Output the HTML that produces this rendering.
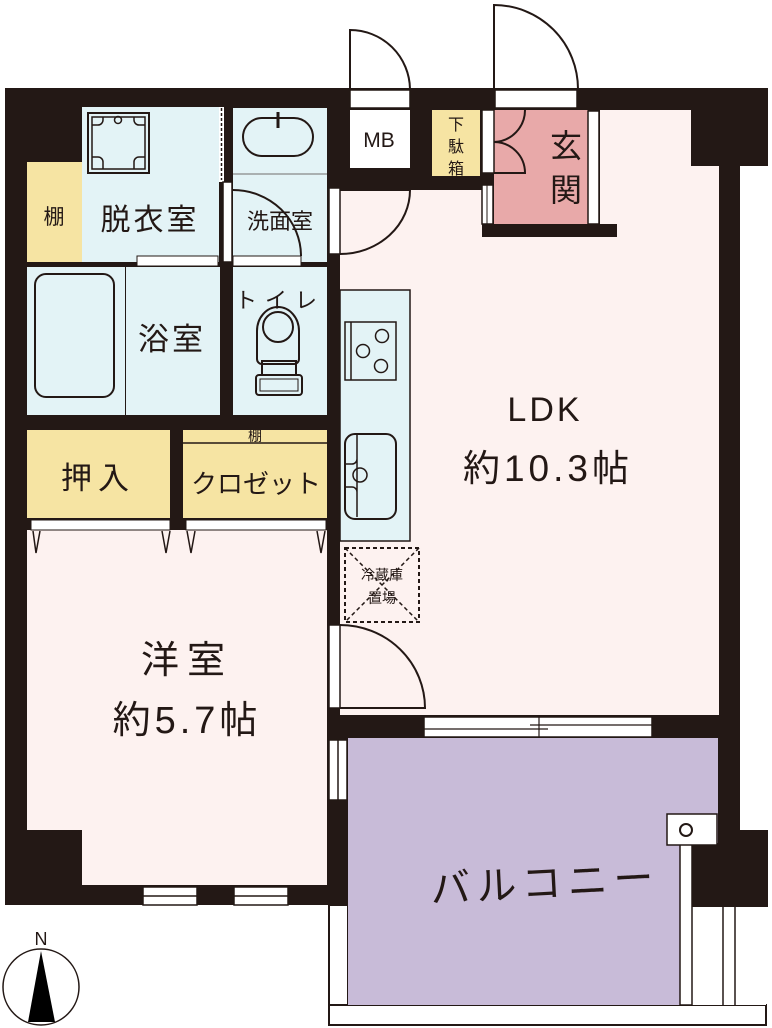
<!DOCTYPE html>
<html><head><meta charset="utf-8"><style>
html,body{margin:0;padding:0;background:#fff;}
svg{display:block;}
text{font-family:"Liberation Sans","Noto Sans CJK JP",sans-serif;fill:#231815;}
</style></head><body>
<svg width="772" height="1028" viewBox="0 0 772 1028" xmlns="http://www.w3.org/2000/svg">
<g stroke="#231815" stroke-width="2" fill="none">
<path d="M350 89 V30 A60 60 0 0 1 410 89"/>
<path d="M494 89 V5 A84 84 0 0 1 578 89"/>
</g>
<rect x="5" y="88" width="735" height="817" fill="#231815"/>
<rect x="691" y="88" width="77" height="78" fill="#231815"/>

<rect x="329" y="905" width="19" height="101" fill="#fff" stroke="#231815" stroke-width="2"/>
<rect x="329" y="1005" width="437" height="20" fill="#fff" stroke="#231815" stroke-width="2"/>
<rect x="348" y="738" width="370" height="267" fill="#c8bbd8"/>
<rect x="692" y="907" width="74" height="98" fill="#fff"/>
<rect x="740" y="830" width="28" height="77" fill="#231815"/>
<rect x="690" y="843" width="50" height="64" fill="#231815"/>
<rect x="680" y="843" width="12" height="162" fill="#fff" stroke="#231815" stroke-width="1.5"/>
<g stroke="#231815" stroke-width="1.5"><line x1="723" y1="907" x2="723" y2="1005"/><line x1="735" y1="907" x2="735" y2="1005"/></g>
<rect x="667" y="814" width="50" height="31" fill="#fff" stroke="#231815" stroke-width="1.5"/>
<circle cx="686" cy="830" r="6" fill="#fff" stroke="#231815" stroke-width="2"/>
<rect x="329" y="740" width="18" height="60" fill="#fff" stroke="#231815" stroke-width="1.5"/>
<line x1="338" y1="740" x2="338" y2="800" stroke="#231815" stroke-width="1.5"/>

<path d="M340 190 H482 V237 H617 V224 H600 V110 H691 V166 H719 V715 H340 Z" fill="#fdf2f0"/>
<rect x="494" y="110" width="94" height="114" fill="#e8a9a9"/>
<rect x="482" y="110" width="12" height="63" fill="#fff" stroke="#231815" stroke-width="1.5"/>
<rect x="588" y="111" width="11" height="113" fill="#fff" stroke="#231815" stroke-width="1.5"/>
<rect x="482" y="185" width="11" height="39" fill="#fff" stroke="#231815" stroke-width="1.5"/>
<line x1="487" y1="185" x2="487" y2="224" stroke="#231815" stroke-width="1"/>
<path d="M525 110 A32 32 0 0 1 494 142 A31 31 0 0 1 525 173 H494" fill="none" stroke="#231815" stroke-width="2"/>
<rect x="495" y="90" width="82" height="18" fill="#fff" stroke="#231815" stroke-width="1.5"/>
<rect x="350" y="110" width="60" height="58" fill="#fff"/>
<rect x="350" y="90" width="60" height="18" fill="#fff" stroke="#231815" stroke-width="1.5"/>
<rect x="432" y="110" width="48" height="66" fill="#f6e4a3"/>
<text x="379" y="147" font-size="21" text-anchor="middle">MB</text>
<text x="456" y="130" font-size="16" text-anchor="middle">下</text>
<text x="456" y="152" font-size="16" text-anchor="middle">駄</text>
<text x="456" y="174" font-size="16" text-anchor="middle">箱</text>
<text x="566" y="157" font-size="32" text-anchor="middle">玄</text>
<text x="566" y="201" font-size="32" text-anchor="middle">関</text>

<rect x="27" y="162" width="55" height="100" fill="#f6e4a3"/>
<rect x="82" y="107" width="137" height="155" fill="#e3f3f6"/>
<rect x="88" y="113" width="61" height="60" fill="none" stroke="#231815" stroke-width="2"/>
<rect x="92" y="117" width="53" height="52" fill="none" stroke="#231815" stroke-width="1.5"/>
<circle cx="118" cy="120" r="3.5" fill="none" stroke="#231815" stroke-width="1.5"/>
<path d="M92 125 H98 A5 5 0 0 0 103 120 V117 M145 125 H139 A5 5 0 0 1 134 120 V117 M92 157 H98 A5 5 0 0 1 103 162 V169 M145 157 H139 A5 5 0 0 0 134 162 V169" fill="none" stroke="#231815" stroke-width="1.5"/>
<rect x="219" y="107" width="5" height="75" fill="#fff"/>
<line x1="221.5" y1="108" x2="221.5" y2="180" stroke="#231815" stroke-width="1.5" stroke-dasharray="3 2"/>
<rect x="223" y="182" width="9" height="80" fill="#fff" stroke="#231815" stroke-width="1.5"/>
<rect x="233" y="108" width="94" height="154" fill="#e3f3f6"/>
<line x1="233" y1="174" x2="327" y2="174" stroke="#888" stroke-width="1.2"/>
<rect x="243" y="118" width="70" height="38" rx="19" fill="none" stroke="#231815" stroke-width="2"/>
<line x1="278" y1="112" x2="278" y2="128" stroke="#231815" stroke-width="3"/>
<path d="M233 190 A68 66 0 0 1 301 256" fill="none" stroke="#231815" stroke-width="2"/>
<rect x="329" y="188" width="11" height="66" fill="#fff" stroke="#231815" stroke-width="1.5"/>
<path d="M340 190 H410 A70 64 0 0 1 340 254" fill="none" stroke="#231815" stroke-width="2"/>
<rect x="137" y="256" width="81" height="10" fill="#fff" stroke="#231815" stroke-width="1"/>
<rect x="233" y="256" width="68" height="10" fill="#fff" stroke="#231815" stroke-width="1"/>
<path d="M209 266 L213 288 L217 266" fill="none" stroke="#231815" stroke-width="1.5"/>
<text x="54" y="224" font-size="21" text-anchor="middle">棚</text>
<text x="150" y="230" font-size="30" text-anchor="middle" letter-spacing="3">脱衣室</text>
<text x="280" y="229" font-size="22" text-anchor="middle">洗面室</text>

<rect x="27" y="267" width="98" height="148" fill="#e3f3f6"/>
<rect x="126" y="267" width="94" height="148" fill="#e3f3f6"/>
<rect x="35" y="274" width="79" height="123" rx="11" fill="none" stroke="#231815" stroke-width="2"/>
<rect x="233" y="267" width="94" height="148" fill="#e3f3f6"/>
<text x="172" y="350" font-size="31" text-anchor="middle" letter-spacing="3">浴室</text>
<text x="280" y="308" font-size="22" text-anchor="middle" letter-spacing="8">トイレ</text>
<path d="M257 359 V331 A21 24 0 0 1 299 331 V359 A5 5 0 0 1 294 364 H262 A5 5 0 0 1 257 359 Z" fill="none" stroke="#231815" stroke-width="2"/>
<circle cx="278" cy="327" r="15" fill="none" stroke="#231815" stroke-width="2"/>
<rect x="262" y="361" width="34" height="14" fill="none" stroke="#231815" stroke-width="2"/>
<rect x="256" y="375" width="46" height="20" rx="3" fill="none" stroke="#231815" stroke-width="2"/>
<rect x="260" y="379" width="38" height="12" fill="none" stroke="#231815" stroke-width="1"/>

<rect x="27" y="430" width="143" height="88" fill="#f6e4a3"/>
<rect x="183" y="430" width="144" height="88" fill="#f6e4a3"/>
<line x1="183" y1="443" x2="327" y2="443" stroke="#231815" stroke-width="1.5"/>
<text x="98" y="489" font-size="31" text-anchor="middle" letter-spacing="6">押入</text>
<text x="255" y="441" font-size="14" text-anchor="middle">棚</text>
<text x="256" y="493" font-size="26" text-anchor="middle">クロゼット</text>

<path d="M27 530 H327 V885 H82 V830 H27 Z" fill="#fdf2f0"/>
<rect x="31" y="520" width="139" height="10" fill="#fff" stroke="#231815" stroke-width="1"/>
<rect x="186" y="520" width="140" height="10" fill="#fff" stroke="#231815" stroke-width="1"/>
<g fill="none" stroke="#231815" stroke-width="1.5">
<path d="M33 531 L36 553 L40 531"/><path d="M162 531 L166 553 L170 531"/>
<path d="M187 531 L191 553 L195 531"/><path d="M317 531 L321 553 L325 531"/>
</g>
<text x="187" y="673" font-size="38" text-anchor="middle" letter-spacing="8">洋室</text>
<text x="187" y="733" font-size="38" text-anchor="middle" letter-spacing="4">約5.7帖</text>
<rect x="143" y="887" width="54" height="18" fill="#fff" stroke="#231815" stroke-width="1.5"/>
<line x1="143" y1="896" x2="197" y2="896" stroke="#231815" stroke-width="1.5"/>
<rect x="234" y="887" width="54" height="18" fill="#fff" stroke="#231815" stroke-width="1.5"/>
<line x1="234" y1="896" x2="288" y2="896" stroke="#231815" stroke-width="1.5"/>
<rect x="329" y="625" width="11" height="83" fill="#fff" stroke="#231815" stroke-width="1.5"/>
<path d="M340 625 A85 83 0 0 1 425 708 H340" fill="none" stroke="#231815" stroke-width="2"/>

<rect x="340" y="290" width="70" height="251" fill="#e3f3f6" stroke="#231815" stroke-width="1.5"/>
<rect x="345" y="322" width="51" height="58" fill="none" stroke="#231815" stroke-width="1.5"/>
<line x1="351" y1="322" x2="351" y2="380" stroke="#231815" stroke-width="1.5"/>
<g fill="none" stroke="#231815" stroke-width="1.5"><circle cx="382" cy="336" r="6.5"/><circle cx="363" cy="351" r="6.5"/><circle cx="381" cy="366" r="6.5"/></g>
<rect x="345" y="434" width="51" height="85" rx="10" fill="none" stroke="#231815" stroke-width="2"/>
<path d="M357 434 V517 M345 464 H352 A5 5 0 0 0 357 459 M345 487 H352 A5 5 0 0 1 357 492" fill="none" stroke="#231815" stroke-width="1.5"/>
<circle cx="360" cy="475" r="7" fill="none" stroke="#231815" stroke-width="1.5"/>
<rect x="345" y="548" width="74" height="74" fill="none" stroke="#231815" stroke-width="2" stroke-dasharray="4 3"/>
<path d="M345 548 L419 622 M419 548 L345 622" stroke="#231815" stroke-width="1.5" stroke-dasharray="4 3"/>
<text x="382" y="580" font-size="14" text-anchor="middle">冷蔵庫</text>
<text x="382" y="603" font-size="14" text-anchor="middle">置場</text>
<text x="545" y="421" font-size="34" text-anchor="middle" letter-spacing="3">LDK</text>
<text x="548" y="481" font-size="37" text-anchor="middle" letter-spacing="4">約10.3帖</text>

<rect x="424" y="717" width="228" height="20" fill="#fff" stroke="#231815" stroke-width="1.5"/>
<line x1="424" y1="729" x2="548" y2="729" stroke="#231815" stroke-width="1.2"/>
<line x1="530" y1="725" x2="652" y2="725" stroke="#231815" stroke-width="1.2"/>
<line x1="539" y1="717" x2="539" y2="737" stroke="#231815" stroke-width="1.2"/>

<text x="545" y="897" font-size="40" text-anchor="middle" letter-spacing="6" transform="rotate(-3 545 885)">バルコニー</text>

<text x="41" y="945" font-size="18" text-anchor="middle">N</text>
<circle cx="41" cy="987" r="38" fill="#fff" stroke="#231815" stroke-width="1.5"/>
<path d="M41 951 L55 1022 L28 1022 Z" fill="#000"/>
</svg>
</body></html>
